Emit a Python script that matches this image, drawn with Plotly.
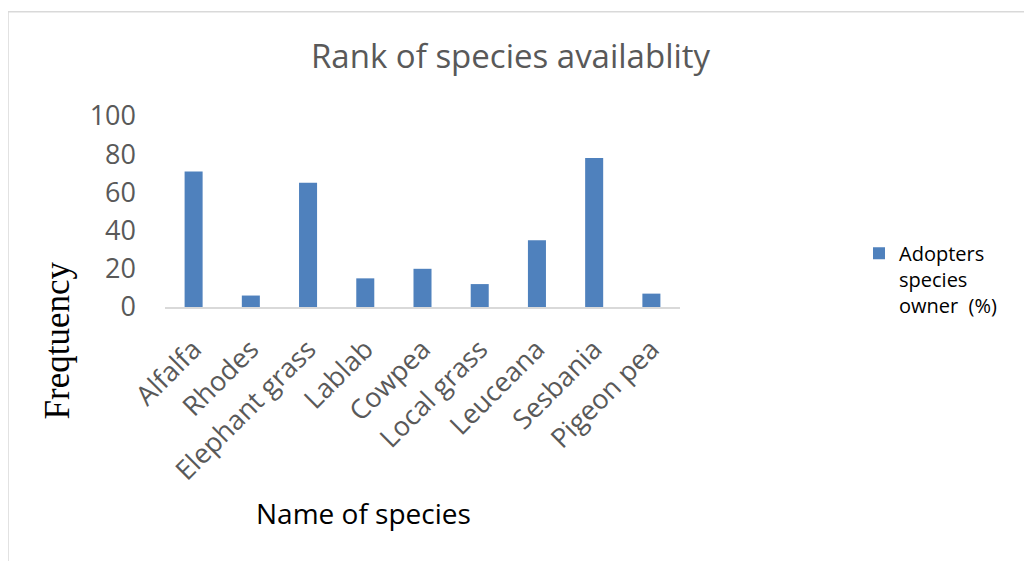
import plotly.graph_objects as go

species = ["Alfalfa", "Rhodes", "Elephant grass", "Lablab", "Cowpea",
           "Local grass", "Leuceana", "Sesbania", "Pigeon pea"]
adopters_pct = [71, 6, 65, 15, 20, 12, 35, 78, 7]
y_ticks = [0, 20, 40, 60, 80, 100]
series_name = "Adopters<br>species<br>owner  (%)"

W, H = 1032, 561
OFF = 8  # page body margin
L, R, T, B = 165, 680, 116, 307.5  # plot area in screen pixels

def px(x):
    return (x - L) / (R - L)

def py(y):
    return (B - y) / (B - T)

fig = go.Figure()
fig.add_trace(go.Bar(x=species, y=adopters_pct, name=series_name,
                     marker=dict(color="#4F81BD", line=dict(width=0))))

fig.update_layout(
    width=W, height=H,
    margin=dict(l=L - OFF, r=W + OFF - R, t=T - OFF, b=H + OFF - B, pad=0),
    paper_bgcolor="white", plot_bgcolor="white",
    bargap=0.685,
    showlegend=True,
    legend=dict(x=px(859), y=py(234), xanchor="left", yanchor="top",
                valign="top", font=dict(family="Open Sans", size=20, color="#000000"),
                bgcolor="rgba(0,0,0,0)"),
    font=dict(family="Open Sans", color="#595959"),
)
fig.update_xaxes(showline=True, linecolor="#d9d9d9", linewidth=1.5,
                 showgrid=False, zeroline=False, tickangle=-45,
                 tickfont=dict(family="Open Sans", size=27, color="#595959"),
                 ticks="", ticklabelstandoff=14)
fig.update_yaxes(range=[0, 100], tickvals=y_ticks, showgrid=False,
                 zeroline=False, showline=False, ticks="",
                 tickfont=dict(family="Open Sans", size=27, color="#595959"),
                 ticklabelstandoff=28)

fig.add_annotation(text="Rank of species availablity", xref="paper", yref="paper",
                   x=px(511), y=py(55), xanchor="center", yanchor="middle",
                   showarrow=False, font=dict(family="Open Sans", size=33, color="#595959"))
fig.add_annotation(text="Name of species", xref="paper", yref="paper",
                   x=px(363), y=py(514), xanchor="center", yanchor="middle",
                   showarrow=False, font=dict(family="Open Sans", size=28, color="#000000"))
fig.add_annotation(text="Freqtuency", xref="paper", yref="paper",
                   x=px(57), y=py(341), xanchor="center", yanchor="middle",
                   textangle=-90, showarrow=False,
                   font=dict(family="Liberation Serif", size=35, color="#000000"))

fig.add_shape(type="rect", xref="paper", yref="paper",
              x0=px(8), x1=px(1045), y0=py(575), y1=py(11.5),
              line=dict(color="#d9d9d9", width=1.5), fillcolor="rgba(0,0,0,0)",
              layer="below")

fig.write_html("out.html")
